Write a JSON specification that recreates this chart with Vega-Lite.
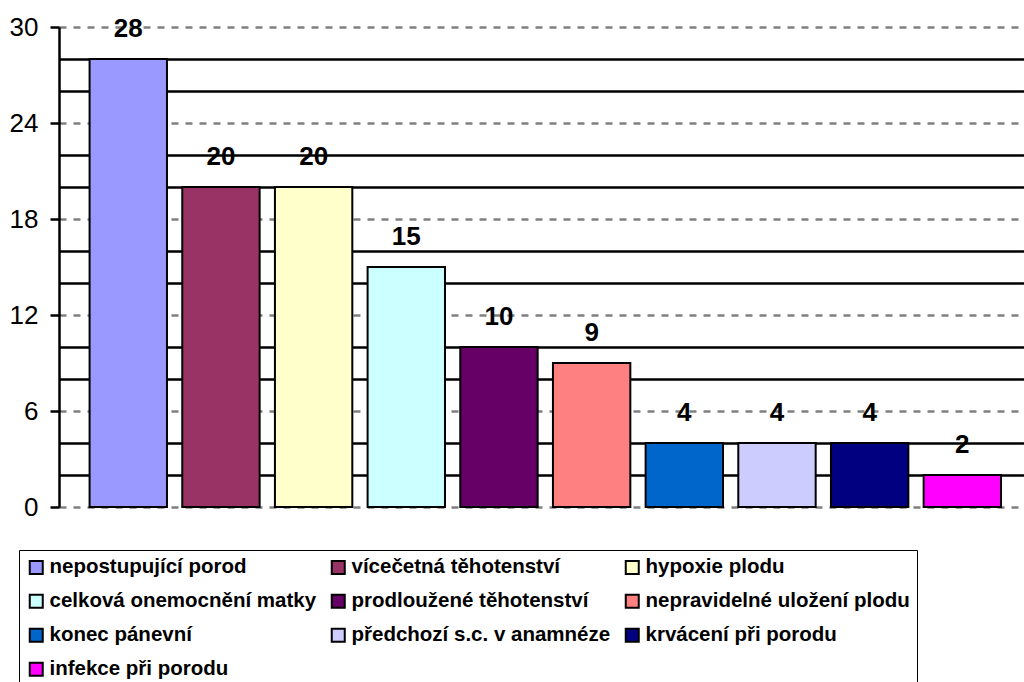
{
  "$schema": "https://vega.github.io/schema/vega-lite/v6.json",
  "autosize": {"type": "none"},
  "padding": {"left": 59, "top": 27, "right": 0, "bottom": 175},
  "width": 965,
  "height": 480,
  "background": "white",
  "config": {
    "view": {"stroke": null},
    "font": "Liberation Sans"
  },
  "data": {
    "values": [
      {"kategorie": "nepostupující porod", "pocet": 28},
      {"kategorie": "vícečetná těhotenství", "pocet": 20},
      {"kategorie": "hypoxie plodu", "pocet": 20},
      {"kategorie": "celková onemocnění matky", "pocet": 15},
      {"kategorie": "prodloužené těhotenství", "pocet": 10},
      {"kategorie": "nepravidelné uložení plodu", "pocet": 9},
      {"kategorie": "konec pánevní", "pocet": 4},
      {"kategorie": "předchozí s.c. v anamnéze", "pocet": 4},
      {"kategorie": "krvácení při porodu", "pocet": 4},
      {"kategorie": "infekce při porodu", "pocet": 2}
    ]
  },
  "encoding": {
    "x": {
      "field": "kategorie",
      "type": "nominal",
      "sort": null,
      "axis": null,
      "scale": {"paddingInner": 0.165, "paddingOuter": 0.289, "align": 0.571, "round": false}
    },
    "y": {
      "field": "pocet",
      "type": "quantitative",
      "scale": {"domain": [0, 30], "nice": false, "zero": true},
      "axis": {
        "title": null,
        "values": [0, 2, 4, 6, 8, 10, 12, 14, 16, 18, 20, 22, 24, 26, 28, 30],
        "labelExpr": "datum.value % 6 === 0 ? datum.label : ''",
        "labelFont": "Liberation Sans",
        "labelFontSize": 26,
        "labelColor": "black",
        "labelPadding": 12,
        "domain": true,
        "domainColor": "black",
        "domainWidth": 2.5,
        "ticks": true,
        "tickSize": 9,
        "tickWidth": 2.5,
        "tickColor": {"condition": {"test": "datum.value % 6 === 0", "value": "black"}, "value": "transparent"},
        "grid": true,
        "gridWidth": 2.5,
        "gridColor": {"condition": {"test": "datum.value % 6 === 0", "value": "#808080"}, "value": "black"},
        "gridDash": {"condition": {"test": "datum.value % 6 === 0", "value": [7, 7]}, "value": [1, 0]}
      }
    }
  },
  "layer": [
    {
      "mark": {"type": "bar", "stroke": "black", "strokeWidth": 2},
      "encoding": {
        "color": {
          "field": "kategorie",
          "type": "nominal",
          "scale": {
            "domain": [
              "nepostupující porod",
              "vícečetná těhotenství",
              "hypoxie plodu",
              "celková onemocnění matky",
              "prodloužené těhotenství",
              "nepravidelné uložení plodu",
              "konec pánevní",
              "předchozí s.c. v anamnéze",
              "krvácení při porodu",
              "infekce při porodu"
            ],
            "range": ["#9999FF", "#993366", "#FFFFCC", "#CCFFFF", "#660066", "#FF8080", "#0066CC", "#CCCCFF", "#000080", "#FF00FF"]
          },
          "legend": {
            "title": null,
            "orient": "none",
            "legendX": -40,
            "legendY": 523,
            "direction": "horizontal",
            "columns": 3,
            "columnPadding": 10,
            "rowPadding": 12,
            "padding": 7,
            "strokeColor": "black",
            "fillColor": "white",
            "symbolType": "square",
            "symbolSize": 169,
            "symbolStrokeColor": "black",
            "symbolStrokeWidth": 2,
            "symbolOpacity": 1,
            "labelFont": "Liberation Sans",
            "labelFontWeight": "bold",
            "labelFontSize": 20.5,
            "labelColor": "black",
            "labelOffset": 3,
            "labelLimit": 400
          }
        }
      }
    },
    {
      "mark": {
        "type": "text",
        "font": "Liberation Sans",
        "fontWeight": "bold",
        "fontSize": 26,
        "color": "black",
        "baseline": "middle",
        "dy": -30
      },
      "encoding": {
        "text": {"field": "pocet", "type": "quantitative"}
      }
    }
  ]
}
